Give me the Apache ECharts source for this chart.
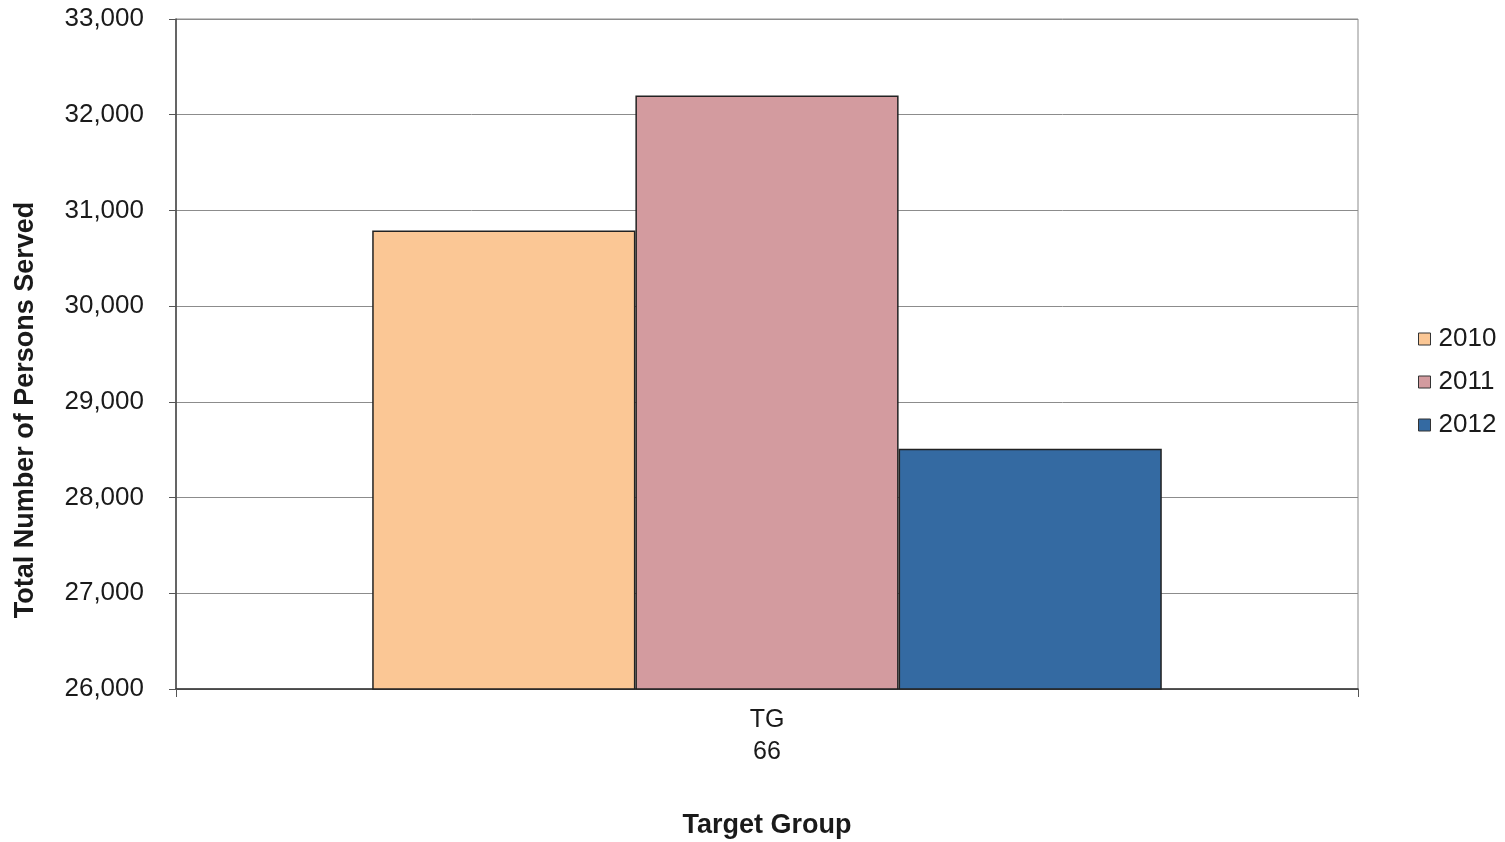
<!DOCTYPE html>
<html>
<head>
<meta charset="utf-8">
<script src="https://cdn.jsdelivr.net/npm/echarts@6/dist/echarts.min.js"></script>
<style>
  html, body { margin: 0; padding: 0; background: #ffffff; }
  #chart { width: 1505px; height: 842px; }
</style>
</head>
<body>
<div id="chart"></div>
<script>
// Persons served per target group, by year
const categories = ['TG\n66'];
const years = ['2010', '2011', '2012'];
const values2010 = [30790];
const values2011 = [32200];
const values2012 = [28510];
const yearColors = ['#FBC795', '#D39B9F', '#346AA2'];

const seriesValues = [values2010, values2011, values2012];

const font = 'Arial, "Liberation Sans", Helvetica, sans-serif';

const chart = echarts.init(document.getElementById('chart'), null, { renderer: 'canvas' });

chart.setOption({
  backgroundColor: '#ffffff',
  animation: false,
  grid: {
    left: 176,
    top: 19,
    right: 147,
    bottom: 153,
    show: true,
    borderColor: '#8c8c8c',
    borderWidth: 1,
    containLabel: false,
    outerBoundsMode: 'none'
  },
  legend: {
    orient: 'vertical',
    left: 1413,
    top: 321,
    itemWidth: 12,
    itemHeight: 12,
    itemGap: 17,
    icon: 'rect',
    textStyle: { fontFamily: font, fontSize: 26, color: '#1a1a1a', padding: [0, 0, 0, 3] },
    itemStyle: { borderColor: '#333', borderWidth: 1 },
    data: years
  },
  xAxis: {
    type: 'category',
    data: categories,
    name: 'Target Group',
    nameLocation: 'middle',
    nameGap: 123,
    nameTextStyle: { fontFamily: font, fontSize: 27, fontWeight: 'bold', color: '#1a1a1a', verticalAlign: 'top' },
    axisLine: { show: true, lineStyle: { color: '#333', width: 1.5 } },
    axisTick: { show: true, length: 8, lineStyle: { color: '#555' } },
    axisLabel: { fontFamily: font, fontSize: 25, color: '#1a1a1a', lineHeight: 32, margin: 15 },
    splitLine: { show: false }
  },
  yAxis: {
    type: 'value',
    min: 26000,
    max: 33000,
    interval: 1000,
    name: 'Total Number of Persons Served',
    nameLocation: 'middle',
    nameRotate: 90,
    nameGap: 137,
    nameTextStyle: { fontFamily: font, fontSize: 27, fontWeight: 'bold', color: '#1a1a1a', padding: [0, 112, 0, 0] },
    axisLine: { show: true, lineStyle: { color: '#444', width: 1.5 } },
    axisTick: { show: true, length: 7, lineStyle: { color: '#555' } },
    axisLabel: {
      fontFamily: font, fontSize: 26, color: '#1a1a1a', margin: 32,
      formatter: v => v.toLocaleString('en-US')
    },
    splitLine: { show: true, lineStyle: { color: '#8c8c8c', width: 1 } }
  },
  series: years.map((y, i) => ({
    name: y,
    type: 'bar',
    data: seriesValues[i],
    barGap: '0%',
    barCategoryGap: '33.2%',
    itemStyle: { color: yearColors[i], borderColor: '#222', borderWidth: 1.5 }
  }))
});
</script>
</body>
</html>
